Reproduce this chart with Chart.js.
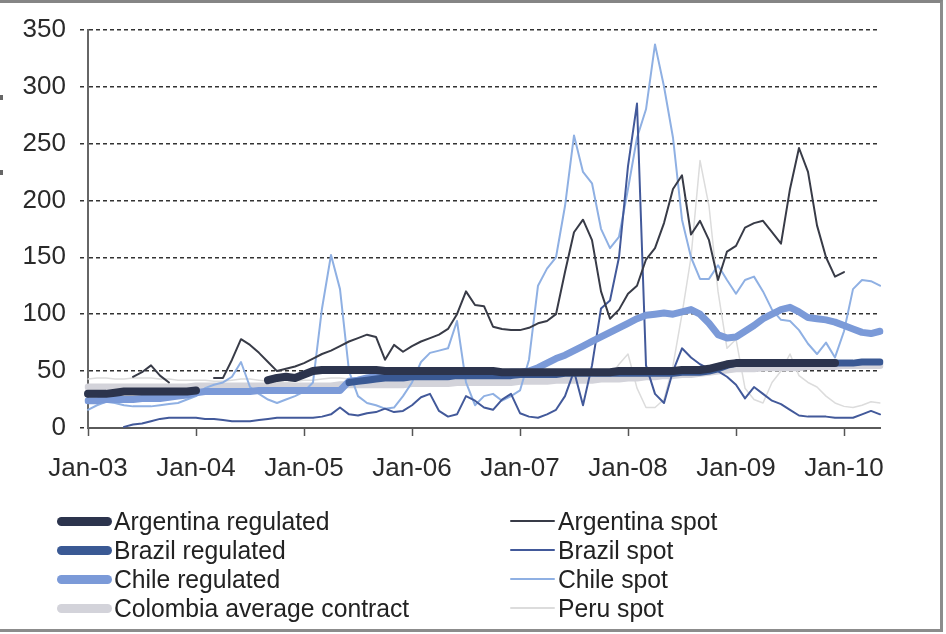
<!DOCTYPE html>
<html><head><meta charset="utf-8">
<script src="https://cdn.jsdelivr.net/npm/chart.js@4.4.1/dist/chart.umd.min.js"></script>
<style>
html,body{margin:0;padding:0;background:#fff;}
#wrap{position:relative;width:946px;height:634px;overflow:hidden;background:#fff;font-family:"Liberation Sans",Arial,sans-serif;}
#frame{position:absolute;left:0;top:0;width:943px;height:632px;box-sizing:border-box;border-top:3px solid #858585;border-right:3px solid #8c8c8c;border-bottom:3px solid #8c8c8c;pointer-events:none;}
.mark{position:absolute;left:0;width:3px;height:5px;background:#666;}
canvas{position:absolute;left:0;top:0;}
.leg{position:absolute;font-size:26px;color:#222;white-space:nowrap;line-height:28px;transform:scaleX(0.95);transform-origin:0 50%;}
.sw{position:absolute;}
</style></head>
<body><div id="wrap"><canvas id="c" width="946" height="634"></canvas><div id="legend"></div><div id="frame"></div><div class="mark" style="top:95px"></div><div class="mark" style="top:170px"></div></div>
<script>
// Month categories Jan-03 .. May-10
const monthNames = ['Jan','Feb','Mar','Apr','May','Jun','Jul','Aug','Sep','Oct','Nov','Dec'];
const years = ['03','04','05','06','07','08','09','10'];
const months = [];
years.forEach(y => monthNames.forEach(m => months.push(m + '-' + y)));
months.length = 89;
const xTickLabels = ['Jan-03','Jan-04','Jan-05','Jan-06','Jan-07','Jan-08','Jan-09','Jan-10'];
const yTicks = [0,50,100,150,200,250,300,350];

const argentinaRegulated = [
 30,30,30,31,32,32,32,32,32,32,32,32,
 33,null,null,null,null,null,null,null,42,44,45,44,
 47,50,51,51,51,51,51,51,51,50,50,50,
 50,50,50,50,50,50,50,50,50,50,49,49,
 49,49,49,49,49,49,49,49,49,49,49,50,
 50,50,50,50,50,50,51,51,51,52,54,56,
 57,57,57,57,57,57,57,57,57,57,57,57,
 null,null,null,null,null];
const brazilRegulated = [
 null,null,null,null,null,null,null,null,null,null,null,null,
 null,null,null,null,null,null,null,null,null,null,null,null,
 null,null,null,null,null,40,41,42,43,44,44,44,
 45,45,45,45,45,46,46,46,46,46,46,46,
 47,47,47,47,47,48,48,48,48,48,48,48,
 48,48,48,48,48,48,49,49,49,50,52,55,
 57,57,57,57,57,57,57,57,57,57,57,57,
 57,57,58,58,58];
const chileRegulated = [
 24,24,25,25,25,25,26,26,26,27,28,29,
 31,32,32,32,32,32,32,33,33,33,33,33,
 33,33,33,33,33,41,42,44,45,46,47,48,
 48,49,49,48,48,49,50,49,47,47,48,49,
 49,50,53,57,61,64,68,72,76,80,84,88,
 92,96,99,100,101,100,102,104,100,92,82,79,
 80,85,90,96,100,104,106,102,97,96,95,93,
 90,87,84,83,85];
const colombiaContract = [
 36,36,36,36,36,36,36,36,36,36,36,36,
 37,37,37,37,37,37,37,37,37,37,37,37,
 37,37,37,37,38,38,38,38,38,38,38,38,
 39,39,39,39,39,40,40,40,40,40,40,40,
 41,41,41,41,42,42,42,42,42,43,43,43,
 44,44,45,45,46,46,47,47,48,49,50,51,
 52,52,52,53,53,53,53,53,54,54,54,54,
 55,55,55,55,55];
const argentinaSpot = [
 null,null,null,null,null,45,49,55,46,40,null,null,
 null,null,44,44,60,78,73,66,58,50,52,54,
 57,61,65,68,72,76,79,82,80,60,73,67,
 72,76,79,82,87,100,120,108,107,89,87,86,
 86,88,92,94,100,137,172,183,165,120,96,104,
 118,125,148,158,180,210,222,170,182,165,130,155,
 160,176,180,182,172,162,210,246,225,178,150,133,
 137,null,null,null,null];
const brazilSpot = [
 null,null,null,null,1,3,4,6,8,9,9,9,
 9,8,8,7,6,6,6,7,8,9,9,9,
 9,9,10,12,18,12,11,13,14,17,14,15,
 20,27,30,15,10,12,28,24,18,16,25,30,
 13,10,9,12,16,28,50,20,55,105,112,150,
 230,285,55,30,22,50,70,62,56,52,50,45,
 38,26,36,30,24,21,16,11,10,10,10,9,
 9,9,12,15,12];
const chileSpot = [
 16,20,23,22,20,19,19,19,20,21,22,25,
 28,35,38,40,45,58,36,30,25,22,25,28,
 32,40,105,152,122,50,28,22,20,17,18,28,
 40,58,66,68,70,94,40,20,28,30,24,28,
 33,60,125,140,150,195,257,225,215,175,158,168,
 210,255,280,337,300,255,183,150,131,131,143,130,
 118,130,133,120,104,95,94,86,74,65,75,62,
 85,122,130,129,125];
const peruSpot = [
 43,44,44,43,43,44,44,44,43,43,42,42,
 42,42,41,41,42,43,43,42,41,40,40,41,
 42,42,43,44,44,43,42,41,40,40,41,42,
 43,44,45,46,45,44,43,42,42,43,44,45,
 46,47,48,46,45,44,43,42,44,46,45,56,
 65,35,18,18,25,55,100,150,235,195,120,70,
 78,35,25,22,40,50,65,46,40,36,28,22,
 19,18,20,23,22];

const seriesNames = ['Argentina regulated','Brazil regulated','Chile regulated','Colombia average contract',
                     'Argentina spot','Brazil spot','Chile spot','Peru spot'];
const seriesData = [argentinaRegulated, brazilRegulated, chileRegulated, colombiaContract,
                    argentinaSpot, brazilSpot, chileSpot, peruSpot];
const seriesColors = ['#2c344d','#3a5994','#7b9ad8','#d3d3da','#383b47','#42599a','#8fb0e3','#dcdcdc'];
const seriesWidths = [8,7,7,7,2,2,2,1.5];
const seriesOrder = [1,2,3,7,4,5,6,8];

const datasets = seriesNames.map((n,i) => ({
  label: n, data: seriesData[i], borderColor: seriesColors[i], backgroundColor: seriesColors[i],
  borderWidth: seriesWidths[i], pointRadius: 0, tension: 0, fill: false, spanGaps: false,
  borderJoinStyle: 'round', borderCapStyle: 'round', order: seriesOrder[i]
}));

const FONT = 'Liberation Sans, Arial, sans-serif';
const chart = new Chart(document.getElementById('c'), {
  type: 'line',
  data: { labels: months, datasets },
  options: {
    responsive: false, animation: false, devicePixelRatio: 1,
    layout: { padding: { top: 25, right: 66, bottom: 146, left: 0 } },
    plugins: { legend: { display: false }, tooltip: { enabled: false } },
    scales: {
      x: {
        type: 'category', offset: false,
        afterFit: s => { s.height = 60; },
        grid: { display: true, drawOnChartArea: false, drawTicks: true, tickLength: 8, tickColor: '#555', tickWidth: 1.5 },
        border: { display: true, color: '#5a5a5a', width: 2 },
        ticks: { autoSkip: false, maxRotation: 0, minRotation: 0, padding: 17, color: '#2a2a2a',
          font: { family: FONT, size: 26 },
          callback: (v, i) => (i % 12 === 0 ? xTickLabels[i / 12] : null) }
      },
      y: {
        min: 0, max: 350,
        afterFit: s => { s.width = 88; },
        afterBuildTicks: s => { s.ticks = yTicks.map(v => ({ value: v })); },
        grid: { color: '#333', lineWidth: 1.5, tickLength: 8, tickColor: '#333', tickWidth: 1.5, tickBorderDash: [4,3] },
        border: { display: true, color: '#666', width: 2, dash: [4,3] },
        ticks: { padding: 14, color: '#2a2a2a', font: { family: FONT, size: 26 } }
      }
    }
  }
});

// HTML legend in two columns
const legend = document.getElementById('legend');
const rowsY = [521, 550, 579, 608];
seriesNames.forEach((n, i) => {
  const col = i < 4 ? 0 : 1, row = i % 4;
  const thick = seriesWidths[i] > 3;
  const sw = document.createElement('div');
  sw.className = 'sw';
  const swX = col === 0 ? 57 : 510, swW = col === 0 ? 55 : 45, h = thick ? 9 : 2;
  sw.style.cssText = `left:${swX}px;top:${rowsY[row]-h/2}px;width:${swW}px;height:${h}px;background:${seriesColors[i]};border-radius:${h/2}px;`;
  legend.appendChild(sw);
  const t = document.createElement('div');
  t.className = 'leg';
  t.textContent = n;
  t.style.left = (col === 0 ? 114 : 558) + 'px';
  t.style.top = (rowsY[row] - 14) + 'px';
  legend.appendChild(t);
});
</script>
</body></html>
